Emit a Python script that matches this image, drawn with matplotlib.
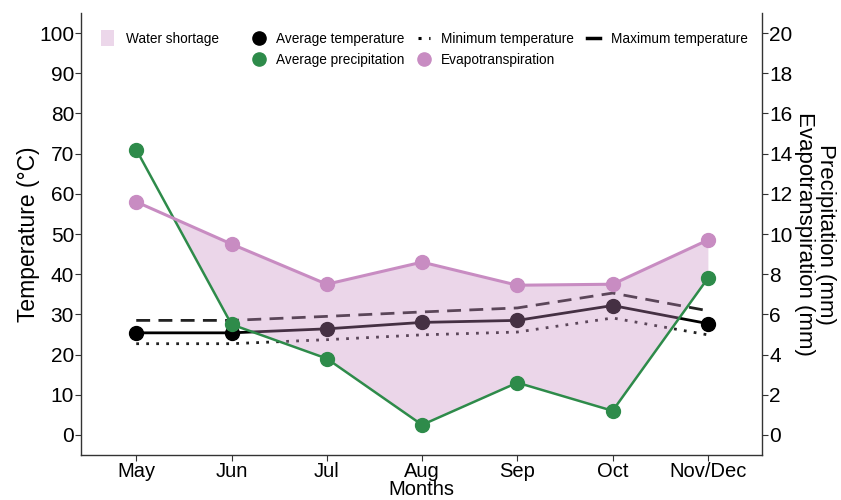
import matplotlib
matplotlib.use("Agg")
import matplotlib.pyplot as plt
from matplotlib.lines import Line2D
from matplotlib.patches import Patch

# Monthly climate summary
months = ["May", "Jun", "Jul", "Aug", "Sep", "Oct", "Nov/Dec"]
temp_avg = [25.4, 25.4, 26.4, 28.0, 28.5, 32.2, 27.7]
temp_min = [22.7, 22.7, 23.7, 24.9, 25.6, 29.1, 24.9]
temp_max = [28.5, 28.5, 29.5, 30.6, 31.6, 35.3, 30.9]
precip = [14.2, 5.5, 3.8, 0.5, 2.6, 1.2, 7.8]          # mm
evapo = [11.6, 9.5, 7.5, 8.6, 7.45, 7.5, 9.7]          # mm

plt.rcParams["font.family"] = ["Liberation Sans", "DejaVu Sans"]

green = "#2e8b4a"
pink = "#c88cc2"
dark = "#333333"

x = list(range(len(months)))

fig = plt.figure(figsize=(8.41, 5), dpi=100)
ax = fig.add_axes([0.0963, 0.09, 0.81, 0.884])
ax2 = ax.twinx()

# temperatures on the left axis (sit underneath the shortage band)
ax.plot(x, temp_max, color="#222222", lw=2.0, ls=(0, (5, 3)), zorder=2)
ax.plot(x, temp_min, color="#222222", lw=2.0, ls=(0, (1, 2.6)), zorder=2)
ax.plot(x, temp_avg, color="black", lw=2.0, marker="o", ms=10, zorder=3)

ax.set_xlim(-0.58, 6.57)
ax.set_ylim(-5, 105)
ax.set_yticks(range(0, 101, 10))
ax.set_xticks(x)
ax.set_xticklabels(months)
ax.set_xlabel("Months", fontsize=14.5, labelpad=-1)
ax.set_ylabel("Temperature (°C)", fontsize=16.5, labelpad=-1)

# precipitation and evapotranspiration on the right axis
ax2.set_ylim(-1, 21)
ax2.set_yticks(range(0, 21, 2))
ax2.fill_between(x, precip, evapo, where=[e > p for e, p in zip(evapo, precip)],
                 interpolate=True, color=pink, alpha=0.35, lw=0, zorder=1)
ax2.plot(x, precip, color=green, lw=1.8, marker="o", ms=10, zorder=3)
ax2.plot(x, evapo, color=pink, lw=2.2, marker="o", ms=10, zorder=3)
ax2.set_ylabel("Precipitation (mm)\nEvapotranspiration (mm)", rotation=270,
               fontsize=16, labelpad=31, multialignment="center", linespacing=1.0)

for a in (ax, ax2):
    a.spines["top"].set_visible(False)
    for s in ("left", "right", "bottom"):
        a.spines[s].set_color(dark)
        a.spines[s].set_linewidth(1.0)
    a.tick_params(colors=dark, labelcolor="black", length=4, width=0.8,
                  labelsize=15, pad=1)
ax2.spines["left"].set_visible(False)
ax2.spines["bottom"].set_visible(False)
ax.spines["right"].set_visible(False)
ax.tick_params(axis="x", labelsize=14.5, pad=1)

# shortage key on its own, then the line keys in three columns
leg1 = ax2.legend([Patch(facecolor="#ecd7ea", edgecolor="none")], ["Water shortage"],
                  loc="upper left", bbox_to_anchor=(0.03, 0.962), frameon=False,
                  handlelength=0.9, handleheight=1.5, handletextpad=0.9,
                  borderpad=0, borderaxespad=0, prop={"size": 9.8})
ax2.add_artist(leg1)

blank = Line2D([], [], lw=0, marker=None)
handles = [
    Line2D([], [], color="black", lw=0, marker="o", ms=9.5),
    Line2D([], [], color=green, lw=0, marker="o", ms=9.5),
    Line2D([], [], color="black", lw=2.2, ls=(0, (1, 2.5))),
    Line2D([], [], color=pink, lw=0, marker="o", ms=9.5),
    Line2D([], [], color="black", lw=2.5, ls="-"),
    blank,
]
labels = ["Average temperature", "Average precipitation",
          "Minimum temperature", "Evapotranspiration", "Maximum temperature", ""]
ax2.legend(handles, labels, ncol=3, loc="upper left", bbox_to_anchor=(0.252, 0.958),
           frameon=False, handlelength=0.9, handletextpad=0.8, columnspacing=1.0,
           labelspacing=0.55, borderpad=0, borderaxespad=0,
           prop={"size": 9.8})

fig.savefig("out.png", dpi=100)
